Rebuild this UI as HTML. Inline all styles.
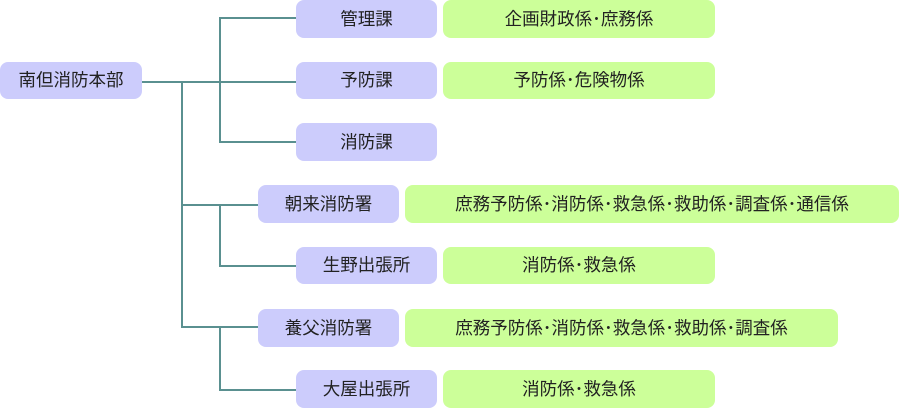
<!DOCTYPE html>
<html><head><meta charset="utf-8"><style>
body{margin:0;width:900px;height:409px;background:#fff;position:relative;overflow:hidden;font-family:"Liberation Sans","Noto Sans CJK JP",sans-serif;}
.b{position:absolute;height:38px;line-height:38px;text-align:center;font-size:17.5px;color:#222;border-radius:8px;white-space:nowrap}
.p{background:#ccccfc}
.g{background:#ccff99}
.l{position:absolute;background:#5a9090}
.h{height:1.5px}.v{width:1.5px}
</style></head><body>
<div class="l h" style="left:142px;top:81px;width:154px"></div>
<div class="l v" style="left:219px;top:17px;height:125px"></div>
<div class="l h" style="left:219px;top:17px;width:77px"></div>
<div class="l h" style="left:219px;top:141px;width:77px"></div>
<div class="l v" style="left:181px;top:81px;height:246px"></div>
<div class="l h" style="left:181px;top:204px;width:77px"></div>
<div class="l v" style="left:219px;top:204px;height:62px"></div>
<div class="l h" style="left:219px;top:265px;width:77px"></div>
<div class="l h" style="left:181px;top:326px;width:77px"></div>
<div class="l v" style="left:219px;top:326px;height:64px"></div>
<div class="l h" style="left:219px;top:389px;width:77px"></div>

<div class="b p" style="left:0;top:62px;width:142px;height:37px;line-height:37px">南但消防本部</div>
<div class="b p" style="left:296px;top:0;width:141px">管理課</div>
<div class="b p" style="left:296px;top:62px;width:141px;height:37px;line-height:37px">予防課</div>
<div class="b p" style="left:296px;top:123px;width:141px">消防課</div>
<div class="b p" style="left:258px;top:185px;width:141px">朝来消防署</div>
<div class="b p" style="left:296px;top:247px;width:141px;height:37px;line-height:37px">生野出張所</div>
<div class="b p" style="left:258px;top:309px;width:141px">養父消防署</div>
<div class="b p" style="left:296px;top:370px;width:141px">大屋出張所</div>

<div class="b g" style="left:443px;top:0;width:272px">企画財政係･庶務係</div>
<div class="b g" style="left:443px;top:62px;width:272px;height:37px;line-height:37px">予防係･危険物係</div>
<div class="b g" style="left:405px;top:185px;width:494px">庶務予防係･消防係･救急係･救助係･調査係･通信係</div>
<div class="b g" style="left:443px;top:247px;width:272px;height:37px;line-height:37px">消防係･救急係</div>
<div class="b g" style="left:405px;top:309px;width:433px">庶務予防係･消防係･救急係･救助係･調査係</div>
<div class="b g" style="left:443px;top:370px;width:272px">消防係･救急係</div>
</body></html>
